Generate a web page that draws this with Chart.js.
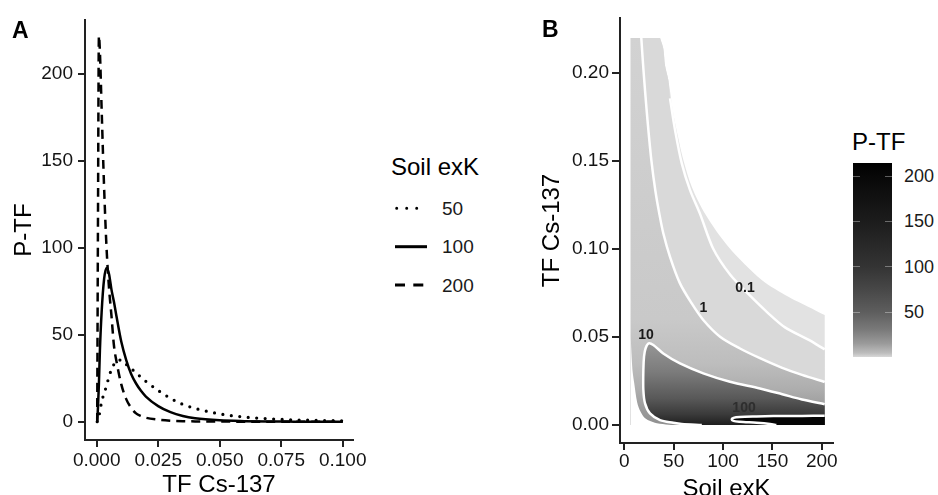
<!DOCTYPE html>
<html lang="en">
<head>
<meta charset="utf-8">
<title>P-TF</title>
<script src="https://cdn.jsdelivr.net/npm/chart.js@4.4.1/dist/chart.umd.min.js"></script>
<style>
  html, body { margin: 0; padding: 0; background: #fff; }
  #wrap { position: relative; width: 938px; height: 495px; overflow: hidden; font-family: "Liberation Sans", Arial, sans-serif; color: #000; }
  #wrap canvas { position: absolute; top: 0; }
  .abs { position: absolute; white-space: nowrap; line-height: 1; }
  .tag { font-weight: bold; font-size: 23px; }
  .big { font-size: 24px; }
  .key { font-size: 19px; color: #1a1a1a; }
  .cb { font-size: 18px; color: #1a1a1a; }
  #cbBar { position: absolute; left: 853px; top: 163px; width: 39px; height: 194px;
    background: linear-gradient(to top, #d8d8d8 0%, #bdbdbd 2%, #9a9a9a 7%, #7a7a7a 14%, #5e5e5e 23%, #474747 35%, #333 47%, #1c1c1c 70%, #080808 93%, #000 100%); }
  .cbTick { position: absolute; width: 7px; height: 1px; background: rgba(255,255,255,0.35); }
</style>
</head>
<body>
<div id="wrap">
  <canvas id="chartA" width="380" height="495" style="left:0;width:380px;height:495px"></canvas>
  <canvas id="chartB" width="330" height="495" style="left:520px;width:330px;height:495px"></canvas>
  <div class="abs tag" style="left:12px;top:19px">A</div>
  <div class="abs tag" style="left:542px;top:18px">B</div>
  <div class="abs big" style="left:391px;top:155px">Soil exK</div>
  <svg class="abs" style="left:390px;top:195px" width="45" height="100">
    <line x1="6.7" y1="13.3" x2="36.7" y2="13.3" stroke="#000" stroke-width="3" stroke-linecap="round" stroke-dasharray="0 10"/>
    <line x1="5" y1="51.7" x2="37" y2="51.7" stroke="#000" stroke-width="3"/>
    <line x1="5" y1="90" x2="33.3" y2="90" stroke="#000" stroke-width="3" stroke-dasharray="10 8.3"/>
  </svg>
  <div id="legendA"></div>
  <div class="abs big" style="left:852px;top:130px">P-TF</div>
  <div id="cbBar"></div>
  <div id="cbLabels"></div>
</div>
<script>
// ---- panel A: P-TF density along TF Cs-137 for three soil exK levels ----
const tfGrid = [0.0002, 0.0005, 0.0009, 0.0013, 0.002, 0.003, 0.004, 0.005, 0.006, 0.007, 0.008, 0.01, 0.012, 0.014, 0.016, 0.018, 0.02, 0.025, 0.03, 0.035, 0.04, 0.05, 0.06, 0.07, 0.08, 0.09, 0.1];
const ptf50  = [0, 0.5, 3, 6, 11.5, 16.3, 20.7, 26, 30, 33, 35, 35.5, 33, 30.5, 28.3, 25.5, 23.2, 18, 13.5, 10, 7.7, 4.5, 2.7, 1.7, 1.1, 0.75, 0.5];
const ptf100 = [0, 8, 22, 41, 63, 82, 88.5, 85, 76, 69, 61, 46, 35.5, 27.5, 22, 17.8, 14.5, 9, 5.5, 3.3, 2, 0.8, 0.35, 0.15, 0.07, 0.03, 0.01];
const ptf200 = [0, 110, 222, 213, 180, 135, 100, 77, 61, 44, 35, 21.5, 13, 8, 4.8, 3.3, 2.3, 1.2, 0.6, 0.3, 0.2, 0.1, 0.05, 0.02, 0.01, 0, 0];
const soilExk = [50, 100, 200];
const tfTicks = [0, 0.025, 0.05, 0.075, 0.1];
const ptfTicks = [0, 50, 100, 150, 200];

// ---- panel B: P-TF over soil exK x TF Cs-137, read as contour outlines ----
const exkTicks = [0, 50, 100, 150, 200];
const tfTicksB = [0, 0.05, 0.1, 0.15, 0.2];
// extent of the computed surface
const exkLo = 6.5, exkHi = 203, tfHi = 0.22;
// upper right edge of the surface
const edgeExk = [36.2, 39.5, 41.2, 44.6, 49.6, 54.7, 59.8, 68.3, 81.8, 105.4, 139.2, 166.2, 193.2, 203];
const edgeTf  = [0.22, 0.214, 0.2045, 0.196, 0.177, 0.163, 0.1506, 0.1354, 0.120, 0.1013, 0.0824, 0.0729, 0.0653, 0.0625];
// lower left edge of the surface
const lowExk = [6.5, 7.5, 8.5, 10, 13, 16.5, 20, 25, 33, 45, 55];
const lowTf  = [0.05, 0.038, 0.03, 0.024, 0.013, 0.0075, 0.0045, 0.0026, 0.001, 0.0002, 0];
// contour P-TF = 0.1
const c01Exk = [46.3, 51.4, 58.2, 66.6, 76.7, 90.2, 107.1, 125.6, 145.9, 162.8, 186.4, 203];
const c01Tf  = [0.1856, 0.1676, 0.1487, 0.1335, 0.120, 0.100, 0.0855, 0.0745, 0.0635, 0.0555, 0.0485, 0.043];
// contour P-TF = 1
const c1Exk = [17.2, 19, 21, 24, 27.5, 31.5, 35.5, 39.5, 46.3, 56.4, 68.3, 80, 97, 117.2, 137.4, 160, 180, 203];
const c1Tf  = [0.22, 0.205, 0.19, 0.17, 0.15, 0.133, 0.12, 0.109, 0.0956, 0.0805, 0.0691, 0.0597, 0.0502, 0.0435, 0.038, 0.0325, 0.0285, 0.0245];
// contour P-TF = 10 (lower branch, then upper branch)
const c10Exk = [78.5, 58.2, 49.6, 36.2, 26, 21, 19.3, 19.3, 20, 21.5, 24.6, 29.4, 39.5, 56.4, 80, 107.1, 137.4, 160, 180, 203];
const c10Tf  = [0, 0.0006, 0.0013, 0.0028, 0.0066, 0.0123, 0.0199, 0.0313, 0.039, 0.0435, 0.0464, 0.0455, 0.0407, 0.035, 0.0294, 0.0246, 0.0208, 0.0175, 0.0145, 0.0118];
// contour P-TF = 100
const c100Exk = [154, 147.6, 134, 117, 110.5, 108.8, 110.5, 117, 134, 151, 180, 203];
const c100Tf  = [0, 0.0006, 0.0013, 0.0019, 0.0024, 0.0033, 0.0041, 0.0046, 0.0049, 0.0051, 0.0052, 0.0053];
// contour labels
const levelText = ['0.1', '1', '10', '100'];
const levelExk = [122.3, 80, 22, 121.3];
const levelTf = [0.0777, 0.0663, 0.0511, 0.0097];
// colour bar
const cbTicks = [50, 100, 150, 200];
const cbMax = 214;

Chart.defaults.font.family = '"Liberation Sans", Arial, sans-serif';

function pts(xs, ys) {
  return xs.map(function (x, i) { return { x: x, y: ys[i] }; });
}
// a repeated point keeps a sharp corner on a smoothed outline
function twice(p) {
  return [{ x: p.x, y: p.y }, { x: p.x, y: p.y }];
}
function last(a) {
  const p = a[a.length - 1];
  return { x: p.x, y: p.y };
}

// vertical shading for a band, stops given as [TF value, colour]
function vGrad(stops) {
  return function (context) {
    const chart = context.chart;
    if (!chart.chartArea) return stops[0][1];
    const y = chart.scales.y;
    const top = y.getPixelForValue(stops[0][0]);
    const bottom = y.getPixelForValue(stops[stops.length - 1][0]);
    const g = chart.ctx.createLinearGradient(0, top, 0, bottom);
    stops.forEach(function (s) {
      g.addColorStop((y.getPixelForValue(s[0]) - top) / (bottom - top), s[1]);
    });
    return g;
  };
}

function axisStyle(ticks, fmt, min, max, tickLen, pad, size, title, titlePad) {
  return {
    type: 'linear', min: min, max: max,
    afterBuildTicks: function (s) { s.ticks = ticks.map(function (v) { return { value: v }; }); },
    afterFit: function (s) { if (s.isHorizontal()) s.height = size; else s.width = size; },
    grid: { display: true, drawOnChartArea: false, drawTicks: true, tickLength: tickLen, color: '#222', lineWidth: 2 },
    border: { display: true, color: '#222', width: 2 },
    ticks: { autoSkip: false, maxRotation: 0, padding: pad, color: '#141414', font: { size: 19 },
      callback: function (v) { return v.toFixed(fmt); } },
    title: { display: true, text: title, color: '#000', font: { size: 24, lineHeight: 1 }, padding: titlePad }
  };
}

document.addEventListener("DOMContentLoaded", function () {
  // legend of panel A and colour bar labels
  const legend = document.getElementById('legendA');
  const keyTops = [199, 237, 276];
  soilExk.forEach(function (k, i) {
    const d = document.createElement('div');
    d.className = 'abs key';
    d.style.left = '442px';
    d.style.top = keyTops[i] + 'px';
    d.textContent = String(k);
    legend.appendChild(d);
  });
  const cbBox = document.getElementById('cbLabels');
  cbTicks.forEach(function (v) {
    const y = 163 + (1 - v / cbMax) * 194;
    const t = document.createElement('div');
    t.className = 'abs cb';
    t.style.left = '904px';
    t.style.top = (y - 8.8) + 'px';
    t.textContent = String(v);
    cbBox.appendChild(t);
    [853, 885].forEach(function (left) {
      const m = document.createElement('div');
      m.className = 'cbTick';
      m.style.left = left + 'px';
      m.style.top = Math.round(y) + 'px';
      cbBox.appendChild(m);
    });
  });

  // panel A
  const lineStyles = [
    { borderWidth: 3.2, borderDash: [0, 8.5], borderCapStyle: 'round' },
    { borderWidth: 2.5 },
    { borderWidth: 2.5, borderDash: [9, 6] }
  ];
  const datasetsA = [ptf50, ptf100, ptf200].map(function (vals, i) {
    return Object.assign({
      label: String(soilExk[i]),
      data: tfGrid.map(function (x, j) { return { x: x, y: vals[j] }; }),
      borderColor: '#000',
      pointRadius: 0,
      fill: false,
      cubicInterpolationMode: 'monotone'
    }, lineStyles[i]);
  });

  new Chart(document.getElementById('chartA'), {
    type: 'line',
    data: { datasets: datasetsA },
    options: {
      responsive: false, animation: false, events: [],
      layout: { padding: { left: 0, top: 20, right: 27, bottom: 0 } },
      plugins: { legend: { display: false }, tooltip: { enabled: false } },
      scales: {
        x: axisStyle(tfTicks, 3, -0.00476, 0.1042, 7, 2, 55, 'TF Cs-137', { top: 0, bottom: -2 }),
        y: axisStyle(ptfTicks, 0, -10.5, 231.1, 7, 5, 85, 'P-TF', { top: 12, bottom: 0 })
      }
    }
  });

  // panel B: filled outlines stacked from the lightest band to the darkest
  const edge = pts(edgeExk, edgeTf), low = pts(lowExk, lowTf);
  const c01 = pts(c01Exk, c01Tf), c1 = pts(c1Exk, c1Tf), c10 = pts(c10Exk, c10Tf), c100 = pts(c100Exk, c100Tf);
  const corner = twice({ x: exkHi, y: 0 });

  const domainShape = [{ x: exkLo, y: tfHi }].concat(twice(edge[0]), edge.slice(1), [last(edge)], corner, [{ x: exkLo, y: 0 }]);
  const band01Shape = [{ x: exkLo, y: tfHi }].concat(twice(edge[0]),
    edge.filter(function (p) { return p.x > edge[0].x && p.x < c01[0].x; }), c01, [last(c01)], corner, [{ x: exkLo, y: 0 }]);
  const band1Shape = [{ x: exkLo, y: tfHi }].concat(twice(c1[0]), c1.slice(1), [last(c1)], corner, [{ x: exkLo, y: 0 }]);
  const band10Shape = c10.concat([last(c10)], corner);
  const band100Shape = c100.concat([last(c100)], corner);
  const lowShape = low.concat([last(low)], [{ x: exkLo, y: 0 }]);

  function band(shape, color, order) {
    return { data: shape, fill: 'shape', backgroundColor: color, borderColor: 'rgba(0,0,0,0)', borderWidth: 0,
      pointRadius: 0, tension: 0.3, order: order };
  }
  function contour(line) {
    return { data: line, fill: false, borderColor: '#fff', borderWidth: 2.5, pointRadius: 0, tension: 0.3, order: 0 };
  }

  const levelLabels = {
    id: 'levelLabels',
    afterDatasetsDraw: function (chart) {
      const ctx = chart.ctx, x = chart.scales.x, y = chart.scales.y;
      ctx.save();
      ctx.font = 'bold 14px "Liberation Sans", Arial, sans-serif';
      ctx.textAlign = 'center';
      ctx.textBaseline = 'middle';
      levelText.forEach(function (t, i) {
        ctx.fillStyle = i === 3 ? '#2e2e2e' : '#1a1a1a';
        ctx.fillText(t, x.getPixelForValue(levelExk[i]), y.getPixelForValue(levelTf[i]));
      });
      ctx.restore();
    }
  };

  new Chart(document.getElementById('chartB'), {
    type: 'line',
    data: {
      datasets: [
        band(domainShape, '#e2e2e2', 6),
        band(band01Shape, '#d9d9d9', 5),
        band(band1Shape, vGrad([[0.22, '#d2d2d2'], [0.06, '#c9c9c9'], [0.035, '#bdbdbd'], [0.02, '#adadad'], [0.01, '#9c9c9c'], [0, '#909090']]), 4),
        band(band10Shape, vGrad([[0.047, '#979797'], [0.03, '#7b7b7b'], [0.015, '#585858'], [0.006, '#3a3a3a'], [0, '#1e1e1e']]), 3),
        band(band100Shape, '#050505', 2),
        band(lowShape, '#ffffff', 1),
        contour(c01), contour(c1), contour(c10), contour(c100)
      ]
    },
    options: {
      responsive: false, animation: false, events: [],
      layout: { padding: { left: 0, top: 18, right: 17, bottom: 0 } },
      plugins: { legend: { display: false }, tooltip: { enabled: false } },
      scales: {
        x: axisStyle(exkTicks, 0, -4.36, 211.4, 7, 0, 52, 'Soil exK', { top: 0, bottom: -6 }),
        y: axisStyle(tfTicksB, 2, -0.0102, 0.2313, 8, 3, 100, 'TF Cs-137', { top: 20, bottom: 0 })
      }
    },
    plugins: [levelLabels]
  });
});
</script>
</body>
</html>
